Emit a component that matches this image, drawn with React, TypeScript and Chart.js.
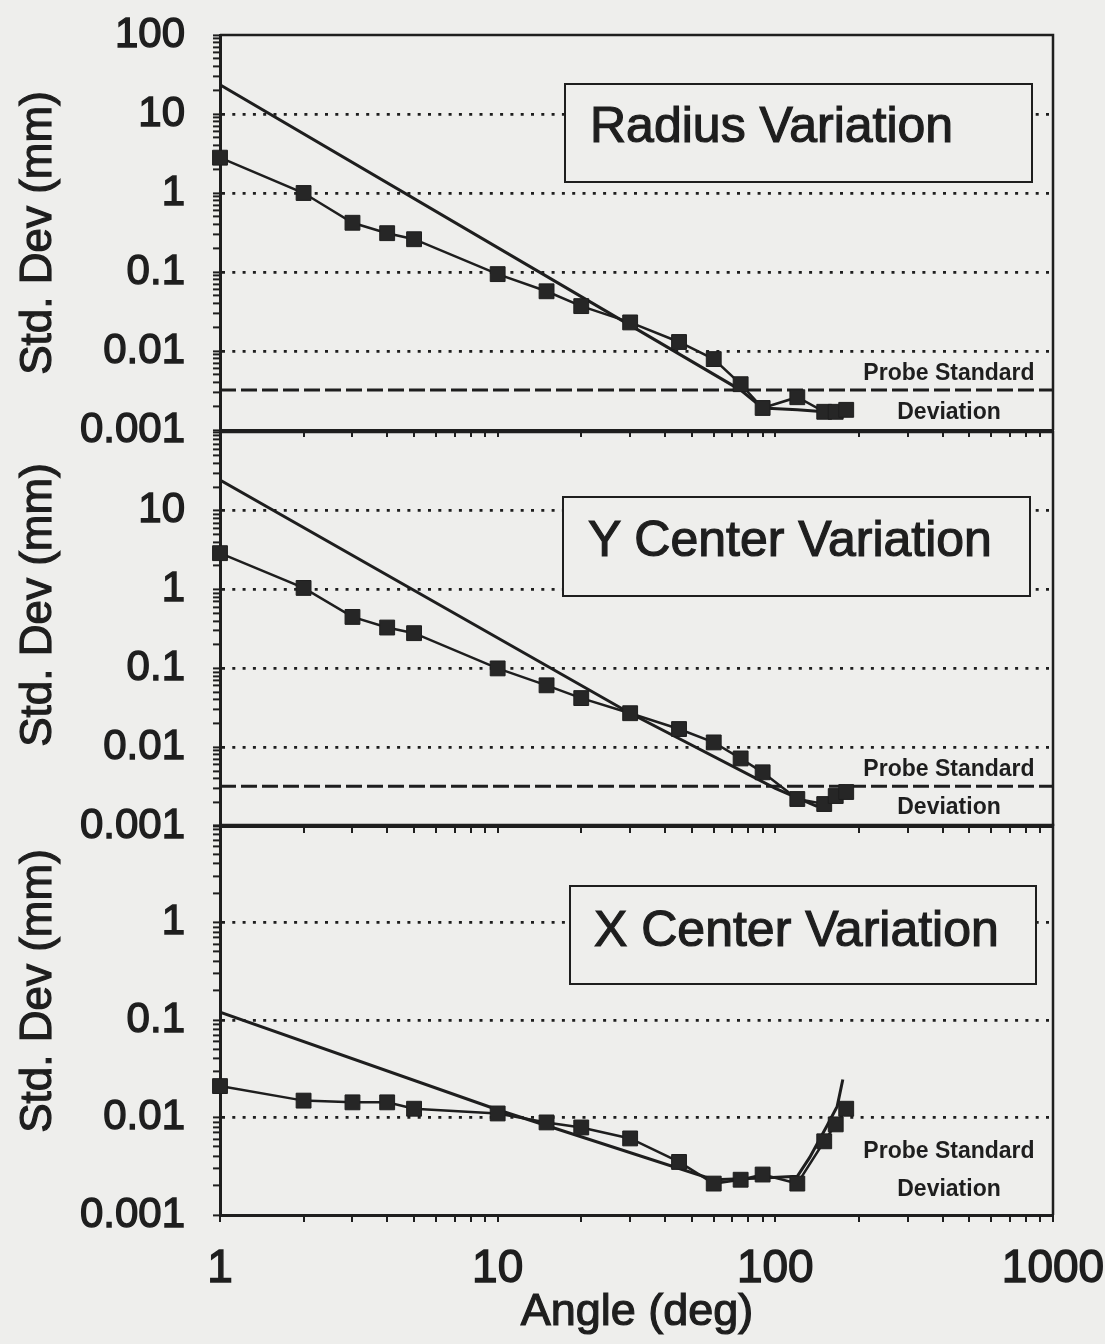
import React, { useEffect, useRef } from 'react';
import { Chart, registerables } from 'chart.js';

Chart.register(...registerables);

// ---------------- data ----------------
const angles = [1, 2, 3, 4, 5, 10, 15, 20, 30, 45, 60, 75, 90, 120, 150, 165, 180];
const radiusSD = [2.8, 1.0, 0.42, 0.31, 0.26, 0.094, 0.057, 0.037, 0.023, 0.013, 0.0079, 0.0038, 0.0019, 0.0026, 0.0017, 0.0017, 0.0018];
const yCenterSD = [2.9, 1.05, 0.45, 0.33, 0.28, 0.1, 0.061, 0.042, 0.027, 0.017, 0.0115, 0.0072, 0.0048, 0.0022, 0.0019, 0.0024, 0.0027];
const xCenterSD = [0.021, 0.0149, 0.0143, 0.0143, 0.0123, 0.011, 0.0089, 0.0079, 0.0061, 0.0035, 0.0021, 0.0023, 0.0026, 0.0021, 0.0057, 0.0085, 0.0123];

const radiusModelAngles = [1, 75, 90, 120, 150, 180];
const radiusModel = [23.5, 0.0032, 0.0019, 0.0018, 0.0017, 0.0017];
const yCenterModelAngles = [1, 30, 100, 140, 165, 180];
const yCenterModel = [24.5, 0.027, 0.003, 0.0018, 0.0021, 0.0025];
const xCenterModelAngles = [1, 10, 60, 90, 120, 133, 153, 167, 175];
const xCenterModel = [0.12, 0.012, 0.0023, 0.0024, 0.0025, 0.0039, 0.0081, 0.013, 0.0245];

const probeSD = 0.0032;
const probeAngles = [1, 1000];

const xTickLabels = ['1', '10', '100', '1000'];
const yTickLabelsTop = ['100', '10', '1', '0.1', '0.01', '0.001'];
const yTickLabelsMid = ['10', '1', '0.1', '0.01', '0.001'];
const yTickLabelsBottom = ['1', '0.1', '0.01', '0.001'];

const panelTitles = ['Radius Variation', 'Y Center Variation', 'X Center Variation'];
const yAxisTitle = 'Std. Dev (mm)';
const xAxisTitle = 'Angle (deg)';
const probeText = ['Probe Standard', 'Deviation'];

// ---------------- styling ----------------
const INK = '#1e1e1e';
const MARK = '#262626';
const BG = '#eeeeec';
const FONT = '"Liberation Sans", Arial, Helvetica, sans-serif';

function logTickValues(min: number, max: number) {
  const out: number[] = [];
  const e0 = Math.round(Math.log10(min));
  const e1 = Math.round(Math.log10(max));
  for (let e = e0; e < e1; e++) {
    for (let m = 1; m < 10; m++) out.push(parseFloat((m * Math.pow(10, e)).toPrecision(6)));
  }
  out.push(max);
  return out;
}
const near = (a: number, b: number) => Math.abs(a - b) <= Math.abs(b) * 1e-6;
const isDecade = (v: number) => {
  const l = Math.log10(v);
  return Math.abs(l - Math.round(l)) < 1e-6;
};
const labelFor = (labels: string[]) => (value: any) => {
  const s = labels.find((l) => near(Number(value), parseFloat(l)));
  return s === undefined ? '' : s;
};

const framePlugin = {
  id: 'frame',
  beforeDatasetsDraw(chart: any) {
    const { ctx, chartArea: a } = chart;
    ctx.save();
    ctx.strokeStyle = INK;
    ctx.lineWidth = 2.5;
    ctx.beginPath();
    ctx.moveTo(a.left, a.top);
    ctx.lineTo(a.right, a.top);
    ctx.lineTo(a.right, a.bottom);
    ctx.stroke();
    ctx.restore();
  },
};

interface PanelSpec {
  measured: number[];
  modelX: number[];
  modelY: number[];
  yMax: number;
  yLabels: string[];
  probe: boolean;
  padTop: number;
  padBottom: number;
  xHeight: number;
  showX: boolean;
}

function buildConfig(p: PanelSpec): any {
  const datasets: any[] = [
    {
      label: 'measured',
      data: angles.map((a, i) => ({ x: a, y: p.measured[i] })),
      borderColor: INK,
      borderWidth: 2.5,
      backgroundColor: MARK,
      pointStyle: 'rect',
      pointRadius: 10.5,
      pointBackgroundColor: MARK,
      pointBorderColor: INK,
      pointBorderWidth: 1,
      tension: 0,
      fill: false,
      clip: false,
    },
    {
      label: 'model',
      data: p.modelX.map((a, i) => ({ x: a, y: p.modelY[i] })),
      borderColor: INK,
      borderWidth: 3,
      pointRadius: 0,
      tension: 0,
      fill: false,
    },
  ];
  if (p.probe) {
    datasets.push({
      label: 'probe',
      data: probeAngles.map((a) => ({ x: a, y: probeSD })),
      borderColor: INK,
      borderWidth: 3,
      borderDash: [16, 5],
      pointRadius: 0,
      fill: false,
    });
  }
  const yMin = 0.001;
  return {
    type: 'line',
    data: { datasets },
    options: {
      animation: false,
      responsive: false,
      maintainAspectRatio: false,
      events: [],
      layout: { padding: { left: 0, right: 52, top: p.padTop, bottom: p.padBottom } },
      plugins: { legend: { display: false }, tooltip: { enabled: false }, title: { display: false } },
      scales: {
        x: {
          type: 'logarithmic',
          min: 1,
          max: 1000,
          afterBuildTicks: (s: any) => {
            s.ticks = logTickValues(1, 1000).map((v) => ({ value: v }));
          },
          afterFit: (s: any) => {
            s.height = p.xHeight;
            s.paddingLeft = 0;
            s.paddingRight = 0;
          },
          grid: {
            drawOnChartArea: false,
            drawTicks: true,
            tickLength: 7,
            tickWidth: 2,
            tickColor: INK,
            color: INK,
            lineWidth: 2,
          },
          border: { display: true, color: INK, width: 3 },
          ticks: {
            display: p.showX,
            autoSkip: false,
            maxRotation: 0,
            minRotation: 0,
            padding: 20,
            color: INK,
            textStrokeColor: INK,
            textStrokeWidth: 1.4,
            font: { family: FONT, size: 46 },
            callback: labelFor(xTickLabels),
          },
        },
        y: {
          type: 'logarithmic',
          min: yMin,
          max: p.yMax,
          afterBuildTicks: (s: any) => {
            s.ticks = logTickValues(yMin, p.yMax).map((v) => ({ value: v }));
          },
          afterFit: (s: any) => {
            s.width = 220;
            s.paddingTop = 0;
            s.paddingBottom = 0;
          },
          grid: {
            color: (ctx: any) => {
              const v = ctx.tick ? ctx.tick.value : null;
              if (v == null || !isDecade(v) || near(v, yMin) || near(v, p.yMax)) return 'rgba(0,0,0,0)';
              return INK;
            },
            lineWidth: 2.8,
            drawTicks: true,
            tickLength: 7,
            tickWidth: 2,
            tickColor: INK,
          },
          border: { display: true, color: INK, width: 3, dash: [3, 7.3] },
          ticks: {
            autoSkip: false,
            padding: 28,
            color: INK,
            textStrokeColor: INK,
            textStrokeWidth: 1.4,
            font: { family: FONT, size: 42 },
            callback: labelFor(p.yLabels),
          },
        },
      },
    },
    plugins: [framePlugin],
  };
}

const canvasBoxes = [
  { top: 0, height: 470 },
  { top: 410, height: 460 },
  { top: 800, height: 544 },
];

const titleBoxes = [
  { left: 564, top: 83, width: 469, height: 100, textLeft: 590, textTop: 100 },
  { left: 562, top: 496, width: 469, height: 101, textLeft: 588, textTop: 514 },
  { left: 569, top: 885, width: 468, height: 100, textLeft: 594, textTop: 904 },
];
const probeLabelY = [
  [372, 411],
  [768, 806],
  [1150, 1188],
];
const yTitleY = [233, 605, 991];

const strokeText = (w: number) => ({ WebkitTextStroke: `${w}px ${INK}` } as any);

export default function App() {
  const r1 = useRef<HTMLCanvasElement>(null);
  const r2 = useRef<HTMLCanvasElement>(null);
  const r3 = useRef<HTMLCanvasElement>(null);

  useEffect(() => {
    const specs: PanelSpec[] = [
      { measured: radiusSD, modelX: radiusModelAngles, modelY: radiusModel, yMax: 100, yLabels: yTickLabelsTop, probe: true, padTop: 35, padBottom: 30, xHeight: 10, showX: false },
      { measured: yCenterSD, modelX: yCenterModelAngles, modelY: yCenterModel, yMax: 100, yLabels: yTickLabelsMid, probe: true, padTop: 22, padBottom: 34, xHeight: 10, showX: false },
      { measured: xCenterSD, modelX: xCenterModelAngles, modelY: xCenterModel, yMax: 10, yLabels: yTickLabelsBottom, probe: false, padTop: 25, padBottom: 0, xHeight: 129, showX: true },
    ];
    const refs = [r1, r2, r3];
    const charts = specs.map((s, i) => new Chart(refs[i].current as HTMLCanvasElement, buildConfig(s)));
    return () => charts.forEach((c) => c.destroy());
  }, []);

  const refs = [r1, r2, r3];
  return (
    <div style={{ position: 'absolute', left: 0, top: 0, width: 1105, height: 1344, background: BG, overflow: 'hidden', fontFamily: FONT, color: INK }}>
      {canvasBoxes.map((b, i) => (
        <canvas key={'c' + i} ref={refs[i]} width={1105} height={b.height} style={{ position: 'absolute', left: 0, top: b.top, width: 1105, height: b.height }} />
      ))}
      {titleBoxes.map((b, i) => (
        <React.Fragment key={'t' + i}>
          <div style={{ position: 'absolute', left: b.left, top: b.top, width: b.width, height: b.height, boxSizing: 'border-box', border: `2px solid ${INK}`, background: BG }} />
          <div style={{ position: 'absolute', left: b.textLeft, top: b.textTop, fontSize: 50, lineHeight: '50px', whiteSpace: 'nowrap', ...strokeText(1.2) }}>{panelTitles[i]}</div>
        </React.Fragment>
      ))}
      {probeLabelY.map((ys, i) => (
        <React.Fragment key={'p' + i}>
          {probeText.map((t, j) => (
            <div key={j} style={{ position: 'absolute', left: 949, top: ys[j], transform: 'translate(-50%, -50%)', fontSize: 23, fontWeight: 'bold', lineHeight: '23px', whiteSpace: 'nowrap' }}>{t}</div>
          ))}
        </React.Fragment>
      ))}
      {yTitleY.map((y, i) => (
        <div key={'y' + i} style={{ position: 'absolute', left: 36, top: y, transform: 'translate(-50%, -50%) rotate(-90deg)', fontSize: 44, lineHeight: '44px', whiteSpace: 'nowrap', ...strokeText(1.2) }}>{yAxisTitle}</div>
      ))}
      <div style={{ position: 'absolute', left: 637, top: 1309, transform: 'translate(-50%, -50%)', fontSize: 45, lineHeight: '45px', whiteSpace: 'nowrap', ...strokeText(1.2) }}>{xAxisTitle}</div>
    </div>
  );
}
